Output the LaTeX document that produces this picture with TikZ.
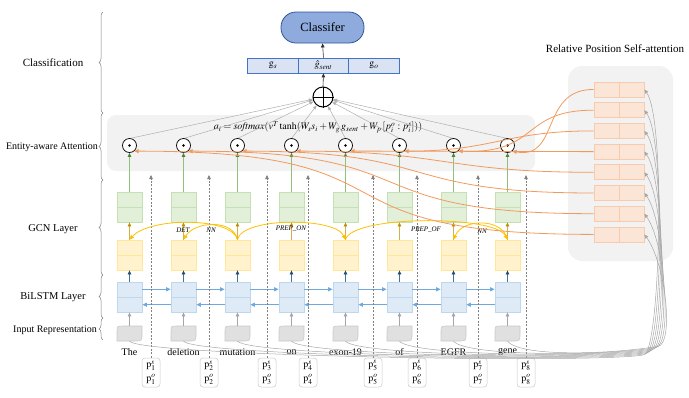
\documentclass[tikz,border=0pt]{standalone}
\usepackage{mathptmx}
\usepackage{fontspec}
\setmainfont{Liberation Serif}
\usetikzlibrary{arrows.meta,calc,decorations.pathreplacing}
\definecolor{greenF}{HTML}{E2F0D9}
\definecolor{greenB}{HTML}{C5E0B4}
\definecolor{greenL}{HTML}{93BF7C}
\definecolor{greenT}{HTML}{548235}
\definecolor{yellowF}{HTML}{FFF2CC}
\definecolor{yellowB}{HTML}{FFE699}
\definecolor{goldA}{HTML}{BF9000}
\definecolor{gcnC}{HTML}{FFC000}
\definecolor{blueF}{HTML}{DEEBF7}
\definecolor{blueB}{HTML}{BDD7EE}
\definecolor{blueD}{HTML}{1F4E79}
\definecolor{blueH}{HTML}{6FA8DC}
\definecolor{inF}{HTML}{E0E0E0}
\definecolor{inB}{HTML}{C9C9C9}
\definecolor{grayA}{HTML}{A6A6A6}
\definecolor{orF}{HTML}{FBE5D6}
\definecolor{orB}{HTML}{F8CBAD}
\definecolor{orL}{HTML}{F19A5E}
\definecolor{panelC}{HTML}{F2F2F2}
\definecolor{clsF}{HTML}{8FAADC}
\definecolor{clsB}{HTML}{2F5597}
\definecolor{gvF}{HTML}{DAE3F3}
\definecolor{gvB}{HTML}{4472C4}
\begin{document}
\begin{tikzpicture}[x=1pt,y=-1pt,
  every node/.style={inner sep=0pt},
  txt/.style={font=\fontsize{10}{12}\selectfont},
  cellbox/.style={minimum width=25pt,minimum height=30pt,line width=0.8pt},
  gbox/.style={cellbox,draw=greenB,fill=greenF},
  ybox/.style={cellbox,draw=yellowB,fill=yellowF},
  bbox/.style={cellbox,draw=blueB,fill=blueF},
  inrep/.style={minimum width=25pt,minimum height=15pt},
  inshape/.style={draw=inB,fill=inF,line width=0.6pt},
  odot/.style={circle,draw=black,fill=white,minimum size=14pt,line width=0.7pt},
  obox/.style={minimum width=50pt,minimum height=15pt,draw=orB,fill=orF,line width=0.8pt},
  pbox/.style={draw=inB,rounded corners=3pt,minimum width=18pt,minimum height=29pt,align=center,font=\fontsize{10}{13.5}\selectfont,line width=0.5pt},
  gvec/.style={draw=gvB,fill=gvF,minimum width=50.5pt,minimum height=15pt,line width=0.8pt,font=\fontsize{10}{12}\selectfont},
  dep/.style={font=\fontsize{7}{8}\selectfont\itshape},
  bracestyle/.style={draw=gray,line width=0.5pt,decorate,decoration={brace,amplitude=4pt}},
  greenarrow/.style={draw=greenL,line width=0.9pt,arrows={-{Triangle[length=4pt,width=3.5pt,fill=greenT,color=greenT]}}},
  goldarrow/.style={draw=goldA!70,line width=0.7pt,arrows={-{Triangle[length=4pt,width=3.5pt,fill=goldA,color=goldA]}}},
  bluedarrow/.style={draw=blueD!80,line width=0.7pt,arrows={-{Triangle[length=4pt,width=3.5pt,fill=blueD,color=blueD]}}},
  bluehor/.style={draw=blueH,line width=0.9pt,arrows={-{Triangle[length=4.5pt,width=4pt]}}},
  grayarrow/.style={draw=grayA,line width=0.7pt,arrows={-{Triangle[length=4pt,width=3.5pt]}}},
  dasharrow/.style={draw=gray,dash pattern=on 2pt off 1.5pt,line width=0.5pt,arrows={-{Triangle[length=4pt,width=3.5pt,fill=gray,color=gray]}}},
  gcnarc/.style={draw=gcnC,line width=0.8pt,arrows={-{Triangle[length=4.5pt,width=4pt]}}},
  orcurve/.style={draw=orL,line width=0.8pt,arrows={-{Triangle[length=4.5pt,width=4pt]}}},
  graycurve/.style={draw=grayA,line width=0.5pt,arrows={-{Triangle[length=4pt,width=3.5pt]}}},
  plusline/.style={draw=grayA!90,line width=0.5pt,arrows={-{Triangle[length=4pt,width=3pt]}}},
  blk/.style={draw=black!80,line width=0.6pt,arrows={-{Triangle[length=4pt,width=3.5pt]}}}
]
\useasboundingbox (0,0) rectangle (689,397);

% panels
\fill[panelC,rounded corners=9pt] (107,115) rectangle (535,171);
\fill[panelC,rounded corners=14pt] (568,66) rectangle (673,261);

% left labels and braces
\node[txt,font=\fontsize{11}{13}\selectfont] (lcls) at (53,63) {Classification};
\node[txt] (latt) at (52,147) {Entity-aware Attention};
\node[txt,font=\fontsize{10.5}{12}\selectfont] (lgcn) at (53,229) {GCN Layer};
\node[txt,font=\fontsize{10.5}{12}\selectfont] (llstm) at (53,297) {BiLSTM Layer};
\node[txt] (linp) at (55,330) {Input Representation};
\draw[bracestyle] (103,113) -- (103,12);
\draw[bracestyle] (103,180) -- (103,113);
\draw[bracestyle] (103,275) -- (103,180);
\draw[bracestyle] (103,318) -- (103,275);
\draw[bracestyle] (103,340) -- (103,318);

% classifier part
\node[draw=clsB,fill=clsF,rounded corners=15pt,minimum width=83pt,minimum height=31pt,line width=0.8pt,font=\fontsize{12.5}{14}\selectfont] (cls) at (322.5,27.5) {Classifer};
\node[gvec] (gs) at (273,65.5) {$\mathrm{g}_{s}$};
\node[gvec] (gsent) at (323.5,65.5) {$\hat{g}_{sent}$};
\node[gvec] (go) at (374,65.5) {$\mathrm{g}_{o}$};
\node[circle,draw=black,minimum size=20pt,line width=1pt] (plus) at (323,97) {};
\draw[line width=1pt] (plus.north) -- (plus.south) (plus.west) -- (plus.east);
\draw[blk] (plus.north) -- (gsent.south);
\draw[blk] (gsent.north) -- (cls.south);

% formula
\node[txt] (formula) at (318,127) {$a_i = \mathit{softmax}(v^{T}\tanh(W_s s_i + W_g\, g_{sent} + W_p\,[p_i^{o} : p_i^{s}]))$};

% column nodes
\foreach \i in {1,...,8}{
  \pgfmathsetmacro{\x}{129.5+54*(\i-1)}
  \node[gbox] (g\i) at (\x,207) {};
  \node[ybox] (y\i) at (\x,255) {};
  \node[bbox] (b\i) at (\x,297) {};
  \node[inrep] (s\i) at (\x,333.5) {};
  \draw[greenB,line width=0.8pt] (g\i.west) -- (g\i.east);
  \draw[yellowB,line width=0.8pt] (y\i.west) -- (y\i.east);
  \draw[blueB,line width=0.8pt] (b\i.west) -- (b\i.east);
  \filldraw[inshape] (\x-12.5,341) -- (\x-12.5,332) .. controls (\x-12.5,326) .. (\x-6,326) -- (\x+12.5,326) -- (\x+12.5,334) .. controls (\x+12.5,341) .. (\x+5,341) -- cycle;
  \draw[plusline] (\x,138.5) -- (plus);
  \node[odot] (c\i) at (\x,145.5) {};
  \fill (c\i.center) circle (1.4pt);
  \draw[greenarrow] (g\i.north) -- (c\i.south);
  \draw[goldarrow] (y\i.north) -- (g\i.south);
  \draw[bluedarrow] (b\i.north) -- (y\i.south);
  \draw[grayarrow] (s\i.north) -- (b\i.south);
}
\foreach \i [count=\j from 2] in {1,...,7}{
  \draw[bluehor] ($(b\i.north east)!0.25!(b\i.south east)$) -- ($(b\j.north west)!0.25!(b\j.south west)$);
  \draw[bluehor] ($(b\j.north west)!0.75!(b\j.south west)$) -- ($(b\i.north east)!0.75!(b\i.south east)$);
}

% words
\foreach \w [count=\i] in {The,deletion,mutation,on,exon-19,of,EGFR,gene}{
  \pgfmathsetmacro{\x}{129.5+54*(\i-1)}
  \node[txt] (w\i) at (\x,352) {\w};
}

% position boxes
\foreach \px [count=\i] in {151,209,267,308,373,417,478,526}{
  \node[pbox] (p\i) at (\px,372.5) {$\mathrm{p}^{s}_{\i}$\\$\mathrm{p}^{o}_{\i}$};
  \coordinate (d\i) at (\px,175);
  \draw[dasharrow] (p\i.north) -- (d\i);
}

% GCN dependency arcs
\draw[gcnarc] (y3.north) .. controls (232,217) and (150,217) .. (y1.north);
\draw[gcnarc] (y3.north) .. controls (233,219) and (195,221) .. (y2.north);
\draw[gcnarc] (y3.north) .. controls (242,217) and (335,217) .. (y5.north);
\draw[gcnarc] (y5.north) .. controls (352,215) and (495,215) .. (y8.north);
\draw[gcnarc] (y8.north) .. controls (503,218) and (463,218) .. (y7.north);
\node[dep] (lDET) at (183,230) {DET};
\node[dep] (lNN1) at (211,230) {NN};
\node[dep] (lPON) at (291,229) {PREP\_ON};
\node[dep] (lPOF) at (426,230) {PREP\_OF};
\node[dep] (lNN2) at (482,231) {NN};

% relative position self-attention
\node[txt,font=\fontsize{11}{13}\selectfont] (rtitle) at (615,49) {Relative Position Self-attention};
\foreach \j in {1,...,8}{
  \pgfmathsetmacro{\oy}{89.5+20.7*(\j-1)}
  \node[obox] (o\j) at (619,\oy) {};
  \draw[orB,line width=0.8pt] (o\j.north) -- (o\j.south);
}

% orange curves: box j -> circle 9-j
\draw[orcurve] (o1.west) .. controls (540,89) and (560,160) .. (c8.-50);
\draw[orcurve] (o2.west) .. controls (520,110) and (540,154) .. (c7.-50);
\draw[orcurve] (o3.west) .. controls +(-90,0) and +(90,0) .. (c6.-50);
\draw[orcurve] (o4.west) .. controls +(-90,0) and +(90,0) .. (c5.-50);
\draw[orcurve] (o5.west) .. controls +(-150,0) and +(150,0) .. (c4.-50);
\draw[orcurve] (o6.west) .. controls +(-200,0) and +(200,0) .. (c3.-50);
\draw[orcurve] (o7.west) .. controls +(-250,0) and +(250,0) .. (c2.-50);
\draw[orcurve] (o8.west) .. controls +(-300,0) and +(300,0) .. (c1.-50);

% gray curves: input representation -> relative position boxes
\foreach \j in {1,...,8}{
  \pgfmathsetmacro{\x}{129.5+54*(\j-1)}
  \pgfmathsetmacro{\ex}{642+2*\j}
  \pgfmathsetmacro{\ey}{356-1.2*\j}
  \pgfmathsetmacro{\oy}{89.5+20.7*(\j-1)}
  \draw[graycurve] (s\j.south) .. controls (\x+12,356) and (600,\ey+9) .. (\ex,\ey) .. controls (\ex+16,\ey-3) and (666,\oy+30) .. (o\j.east);
}
\end{tikzpicture}
\end{document}
